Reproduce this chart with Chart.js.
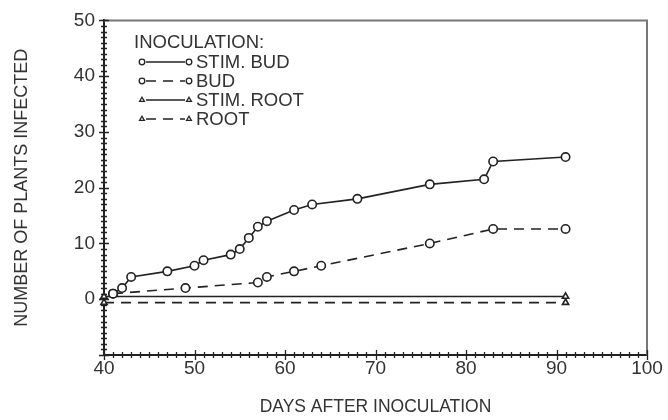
<!DOCTYPE html>
<html>
<head>
<meta charset="utf-8">
<script src="https://cdn.jsdelivr.net/npm/chart.js@4.4.1/dist/chart.umd.min.js"></script>
<style>
  html, body { margin: 0; padding: 0; background: #fff; }
  #wrap { width: 668px; height: 420px; position: relative; }
</style>
</head>
<body>
<div id="wrap"><canvas id="infChart"></canvas></div>
<script>
// ====== DATA ======
const xTicks = [40, 50, 60, 70, 80, 90, 100];
const yTicks = [0, 10, 20, 30, 40, 50];

const stimBudDays   = [41, 42, 43, 47, 50, 51, 54, 55, 56, 57, 58, 61, 63, 68, 76, 82, 83, 91];
const stimBudCounts = [1, 2, 4, 5, 6, 7, 8, 9, 11, 13, 14, 16, 17, 18, 20.6, 21.5, 24.7, 25.5];

const budDays   = [41, 49, 57, 58, 61, 64, 76, 83, 91];
const budCounts = [1, 2, 3, 4, 5, 6, 10, 12.6, 12.6];

const rootDays        = [40, 91];
const stimRootCounts  = [0.5, 0.5];
const rootCounts      = [-0.6, -0.6];

const legendTitle = 'INOCULATION:';
const seriesNames = ['STIM. BUD', 'BUD', 'STIM. ROOT', 'ROOT'];

const INK = '#222';
const TEXT = '#333';
const FONT = "'Liberation Sans', Arial, sans-serif";

function toPoints(xs, ys) {
  return xs.map((x, i) => ({ x: x, y: ys[i] }));
}

function series(label, xs, ys, dashed, style) {
  return {
    label: label,
    data: toPoints(xs, ys),
    showLine: true,
    borderColor: INK,
    borderWidth: 1.6,
    borderDash: dashed ? [10, 7] : [],
    pointStyle: style,
    pointRadius: style === 'circle' ? 4.2 : 3.6,
    pointBorderWidth: 1.6,
    pointBorderColor: INK,
    pointBackgroundColor: '#fff',
    clip: false
  };
}

// ====== TICKS + FRAME ======
const frameTicks = {
  id: 'frameTicks',
  afterDraw(chart) {
    const { ctx, chartArea: a, scales: { x, y } } = chart;
    ctx.save();
    // top and right frame
    ctx.strokeStyle = '#777';
    ctx.lineWidth = 2;
    ctx.beginPath();
    ctx.moveTo(a.left, a.top);
    ctx.lineTo(a.right, a.top);
    ctx.lineTo(a.right, a.bottom);
    ctx.stroke();

    ctx.strokeStyle = INK;
    ctx.lineWidth = 1.3;
    ctx.beginPath();
    for (let v = x.min; v <= x.max; v++) {
      const px = Math.round(x.getPixelForValue(v)) + 0.5;
      const len = v % 10 === 0 ? 5 : 3;
      ctx.moveTo(px, a.bottom - len);
      ctx.lineTo(px, a.bottom + len);
    }
    for (let v = y.min; v <= y.max; v++) {
      const py = Math.round(y.getPixelForValue(v)) + 0.5;
      const len = v % 10 === 0 ? 5 : 3;
      ctx.moveTo(a.left - len, py);
      ctx.lineTo(a.left + len, py);
    }
    ctx.stroke();
    ctx.restore();
  }
};

// ====== LEGEND ======
const inocLegend = {
  id: 'inocLegend',
  afterDraw(chart) {
    const ctx = chart.ctx;
    ctx.save();
    ctx.fillStyle = TEXT;
    ctx.font = '18.5px ' + FONT;
    ctx.textBaseline = 'middle';
    ctx.textAlign = 'left';
    ctx.fillText(legendTitle, 134, 43);

    const rows = [62, 81, 100, 119];
    chart.data.datasets.forEach((ds, i) => {
      const yy = rows[i];
      ctx.strokeStyle = INK;
      ctx.lineWidth = 1.5;
      ctx.setLineDash(ds.borderDash);
      ctx.beginPath();
      ctx.moveTo(146, yy);
      ctx.lineTo(185, yy);
      ctx.stroke();
      ctx.setLineDash([]);
      [142, 189].forEach(cx => {
        Chart.helpers.drawPoint(ctx, {
          pointStyle: ds.pointStyle,
          radius: 2.8,
          borderWidth: 1.3,
          rotation: 0
        }, cx, yy);
      });
      ctx.fillStyle = TEXT;
      ctx.fillText(ds.label, 196, yy + 1);
    });
    ctx.restore();
  }
};

// draw legend markers with white fill
Chart.helpers.drawPoint = (function (orig) {
  return function (ctx, opts, x, y) {
    ctx.fillStyle = '#fff';
    ctx.strokeStyle = INK;
    ctx.lineWidth = opts.borderWidth || 1.3;
    return orig(ctx, opts, x, y);
  };
})(Chart.helpers.drawPoint);

// ====== CHART ======
const infChart = new Chart(document.getElementById('infChart'), {
  type: 'scatter',
  data: {
    datasets: [
      series(seriesNames[0], stimBudDays, stimBudCounts, false, 'circle'),
      series(seriesNames[1], budDays, budCounts, true, 'circle'),
      series(seriesNames[2], rootDays, stimRootCounts, false, 'triangle'),
      series(seriesNames[3], rootDays, rootCounts, true, 'triangle')
    ]
  },
  options: {
    responsive: true,
    maintainAspectRatio: false,
    animation: false,
    layout: { padding: { left: 0, right: 21, top: 20, bottom: 0 } },
    plugins: {
      legend: { display: false },
      tooltip: { enabled: false }
    },
    scales: {
      x: {
        type: 'linear',
        min: 40,
        max: 100,
        afterBuildTicks: scale => { scale.ticks = xTicks.map(v => ({ value: v })); },
        afterFit: scale => { scale.height = 65; },
        grid: { display: false, drawTicks: false },
        border: { display: true, color: INK, width: 2 },
        ticks: { color: TEXT, font: { family: FONT, size: 19 }, padding: 2, maxRotation: 0 },
        title: {
          display: true,
          text: 'DAYS AFTER INOCULATION',
          color: TEXT,
          font: { family: FONT, size: 17.5 },
          padding: { top: 0, bottom: 2 }
        }
      },
      y: {
        type: 'linear',
        min: -10,
        max: 50,
        afterBuildTicks: scale => { scale.ticks = yTicks.map(v => ({ value: v })); },
        afterFit: scale => { scale.width = 104; },
        grid: { display: false, drawTicks: false },
        border: { display: true, color: INK, width: 2 },
        ticks: { color: TEXT, font: { family: FONT, size: 19 }, padding: 9 },
        title: {
          display: true,
          text: 'NUMBER OF PLANTS INFECTED',
          color: TEXT,
          font: { family: FONT, size: 18 },
          padding: { top: 11, bottom: 0 }
        }
      }
    }
  },
  plugins: [frameTicks, inocLegend]
});
</script>
</body>
</html>
